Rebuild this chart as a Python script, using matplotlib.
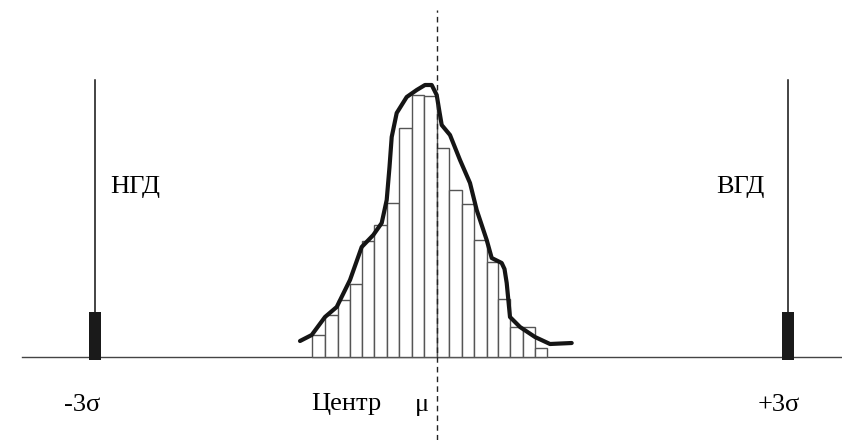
import matplotlib
matplotlib.use('Agg')
import matplotlib.pyplot as plt
import numpy as np

# гистограмма: левые края интервалов и высоты столбцов
bin_edges = [311.7, 325.0, 337.7, 350.0, 361.7, 374.3, 387.3, 399.3, 411.7, 424.3,
             436.7, 449.3, 461.7, 474.0, 486.7, 498.3, 510.0, 522.7, 535.0, 547.3]
counts = [22, 42, 57, 73, 116, 132, 154, 229, 262, 261,
          209, 167, 153, 117, 95, 58, 30, 30, 9]

# огибающая кривая распределения
curve_x = [300, 311.7, 325, 336.7, 350, 361.7, 373.3, 381.7, 386.7, 389.5,
           391.7, 396.7, 406.7, 416.7, 425, 431.7, 436.7, 439.5, 441.7, 450,
           460, 470, 476.7, 486.7, 491.7, 501.7, 504.5, 506.7, 510, 520,
           535, 550, 571.7]
curve_y = [16, 22, 40, 50, 77, 110, 122, 134, 157, 190,
           220, 244, 260, 267, 272, 272, 262, 245, 232, 222,
           197, 174, 147, 117, 99, 94, 88, 74, 40, 30,
           20, 13, 14]

mu = 436.7
lower_limit = 95.0     # -3σ
upper_limit = 787.7    # +3σ
limit_top = 277
marker_h = 45

plt.rcParams['font.family'] = ['Liberation Serif', 'DejaVu Serif']

fig = plt.figure(figsize=(8.42, 4.40), dpi=100)
ax = fig.add_axes([0, 0, 1, 1])
ax.set_xlim(0, 842)
ax.set_ylim(-83, 357)
ax.axis('off')

# ось
ax.plot([22, 842], [0, 0], color='#444444', lw=1.0, zorder=1)

# столбцы
edges = np.array(bin_edges)
widths = np.diff(edges)
ax.bar(edges[:-1], counts, width=widths, align='edge', facecolor='white',
       edgecolor='#555555', linewidth=1.0, zorder=2)

# кривая
ax.plot(curve_x, curve_y, color='#151515', lw=3.0, solid_joinstyle='round',
        solid_capstyle='round', zorder=3)

# центр распределения
ax.plot([mu, mu], [-83, 347], color='#222222', lw=1.0, ls=(0, (4, 3)), zorder=4)

# границы допуска
for xl in (lower_limit, upper_limit):
    ax.plot([xl, xl], [0, limit_top], color='#111111', lw=1.1, zorder=2)
    ax.bar(xl, marker_h + 3, bottom=-3, width=12, color='#1a1a1a', zorder=3)

fs = 19
ax.text(110, 170, 'НГД', fontsize=fs, ha='left', va='center')
ax.text(716, 170, 'ВГД', fontsize=fs, ha='left', va='center')
ax.text(82, -48, '-3σ', fontsize=fs, ha='center', va='center')
ax.text(779, -48, '+3σ', fontsize=fs, ha='center', va='center')
ax.text(311, -47, 'Центр', fontsize=fs, ha='left', va='center')
ax.text(422, -48, 'μ', fontsize=fs, ha='center', va='center')

fig.savefig('out.png', dpi=100, facecolor='white')
